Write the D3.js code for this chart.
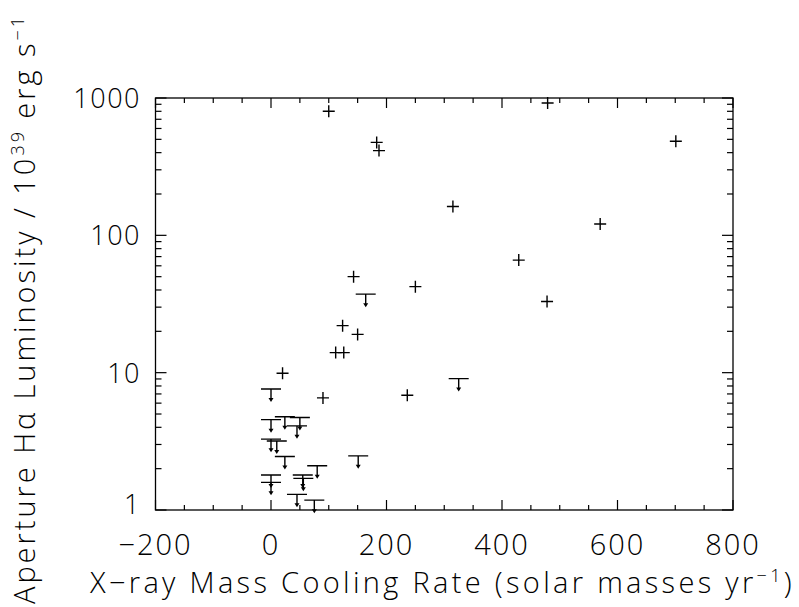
<!DOCTYPE html>
<html>
<head>
<meta charset="utf-8">
<script src="https://cdn.jsdelivr.net/npm/d3@7"></script>
<style>
  body { margin: 0; background: #fff; }
  text { font-family: "Open Sans", "DejaVu Sans", sans-serif; font-weight: 300; fill: #000; }
</style>
</head>
<body>
<div id="chart"></div>
<script>

// detections (crosses)
const detX = [100, 183, 187, 315, 479, 701, 570, 429, 143, 250, 478, 124, 150, 112, 126, 20, 90, 236];
const detY = [800, 475, 414, 162, 920, 484, 121, 66, 50, 42.3, 33, 22, 19, 14, 14, 9.9, 6.55, 6.85];

// upper limits (T with arrow)
const limX = [164, 0, 325, 151, 0, 24, 50, 45, 0, 10, 24, 80, 0, 0, 55, 56, 45, 75];
const limY = [37.3, 7.6, 9.05, 2.48, 4.55, 4.78, 4.72, 4.1, 3.28, 3.18, 2.45, 2.1, 1.8, 1.59, 1.8, 1.7, 1.3, 1.18];

const xTicks = [-200, 0, 200, 400, 600, 800];
const yTicks = [1, 10, 100, 1000];

const width = 799, height = 607;

const svg = d3.select("#chart")
    .append("svg")
    .attr("width", width)
    .attr("height", height);

var x = d3.scaleLinear()
    .domain([-200, 800])
    .range([155.5, 733]);

var y = d3.scaleLog()
    .domain([1, 1000])
    .range([510, 98]);

// frame
svg.append("rect")
    .attr("x", x(-200))
    .attr("y", y(1000))
    .attr("width", x(800) - x(-200))
    .attr("height", y(1) - y(1000))
    .attr("fill", "none")
    .attr("stroke", "#000")
    .attr("stroke-width", 1.3);

// ticks on all four sides, pointing in
const xMinor = d3.range(-200, 801, 50);
const yMinor = y.ticks();

const tickG = svg.append("g")
    .attr("stroke", "#000")
    .attr("stroke-width", 1.2);

tickG.selectAll(".xb")
    .data(xMinor)
    .enter()
    .append("line")
    .attr("x1", d => x(d)).attr("x2", d => x(d))
    .attr("y1", y(1))
    .attr("y2", d => y(1) - (d % 200 == 0 ? 10 : 5));

tickG.selectAll(".xt")
    .data(xMinor)
    .enter()
    .append("line")
    .attr("x1", d => x(d)).attr("x2", d => x(d))
    .attr("y1", y(1000))
    .attr("y2", d => y(1000) + (d % 200 == 0 ? 10 : 5));

function isMajor(d) {
    return yTicks.indexOf(Math.round(d)) >= 0;
}

tickG.selectAll(".yl")
    .data(yMinor)
    .enter()
    .append("line")
    .attr("y1", d => y(d)).attr("y2", d => y(d))
    .attr("x1", x(-200))
    .attr("x2", d => x(-200) + (isMajor(d) ? 11 : 6));

tickG.selectAll(".yr")
    .data(yMinor)
    .enter()
    .append("line")
    .attr("y1", d => y(d)).attr("y2", d => y(d))
    .attr("x1", x(800))
    .attr("x2", d => x(800) - (isMajor(d) ? 11 : 6));

// tick labels
svg.selectAll(".xlab")
    .data(xTicks)
    .enter()
    .append("text")
    .attr("x", d => x(d))
    .attr("y", 555)
    .attr("text-anchor", "middle")
    .style("font-size", "29px")
    .style("letter-spacing", "2px")
    .text(d => d < 0 ? "\u2212" + Math.abs(d) : d);

svg.selectAll(".ylab")
    .data(yTicks)
    .enter()
    .append("text")
    .attr("x", 141)
    .attr("y", d => Math.min(y(d) + 10, 514))
    .attr("text-anchor", "end")
    .style("font-size", "27px")
    .style("letter-spacing", "1.5px")
    .text(d => d);

// axis titles
function fitWidth(sel, target) {
    const n = sel.text().length;
    const w = sel.node().getComputedTextLength();
    sel.style("letter-spacing", ((target - w) / n) + "px");
}

const xTitle = svg.append("text")
    .attr("x", 90)
    .attr("y", 593)
    .style("font-size", "29px");
xTitle.append("tspan").text("X\u2212ray Mass Cooling Rate (solar masses yr");
xTitle.append("tspan").attr("dy", -11).style("font-size", "18px").text("\u22121");
xTitle.append("tspan").attr("dy", 11).text(")");
fitWidth(xTitle, 705);

const yTitle = svg.append("text")
    .attr("transform", "translate(35,604) rotate(-90)")
    .style("font-size", "29px");
yTitle.append("tspan").text("Aperture H\u03b1 Luminosity / 10");
yTitle.append("tspan").attr("dy", -11).style("font-size", "18px").text("39");
yTitle.append("tspan").attr("dy", 11).text(" erg s");
yTitle.append("tspan").attr("dy", -11).style("font-size", "18px").text("\u22121");
fitWidth(yTitle, 590);

// detections
const det = detX.map((d, i) => ({ x: d, y: detY[i] }));

svg.append("g")
    .selectAll("path")
    .data(det)
    .enter()
    .append("path")
    .attr("d", d => {
        const cx = x(d.x), cy = y(d.y);
        return "M" + (cx - 6) + "," + cy + "H" + (cx + 6) + "M" + cx + "," + (cy - 6) + "V" + (cy + 6);
    })
    .attr("stroke", "#000")
    .attr("stroke-width", 1.4)
    .attr("fill", "none");

// upper limits
const lim = limX.map((d, i) => ({ x: d, y: limY[i] }));

const limG = svg.append("g")
    .selectAll("g")
    .data(lim)
    .enter()
    .append("g");

limG.append("path")
    .attr("d", d => {
        const cx = x(d.x), cy = y(d.y);
        return "M" + (cx - 10) + "," + cy + "H" + (cx + 10) + "M" + cx + "," + cy + "V" + (cy + 11);
    })
    .attr("stroke", "#000")
    .attr("stroke-width", 1.4)
    .attr("fill", "none");

limG.append("path")
    .attr("d", d => {
        const cx = x(d.x), cy = y(d.y) + 13;
        return "M" + (cx - 2.5) + "," + (cy - 4) + "L" + (cx + 2.5) + "," + (cy - 4) + "L" + cx + "," + cy + "Z";
    })
    .attr("fill", "#000");

</script>
</body>
</html>
